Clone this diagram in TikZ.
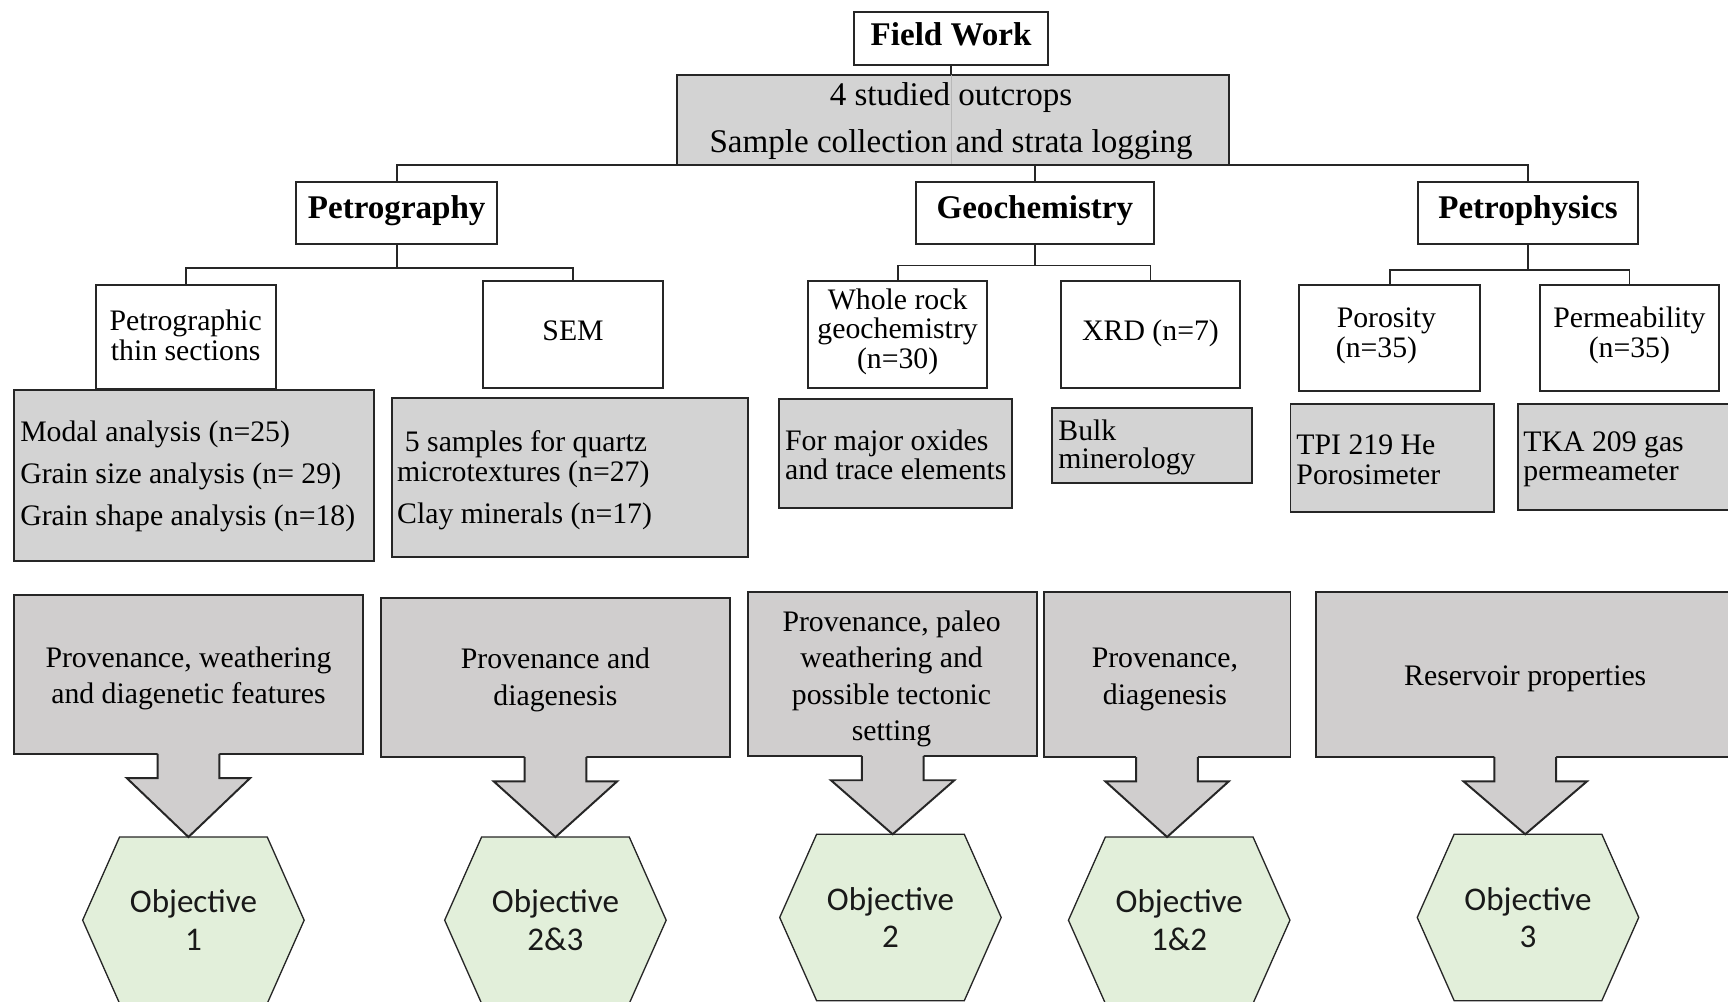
\documentclass[tikz,border=0pt]{standalone}
\usepackage{fontspec}
\setmainfont{Liberation Serif}
\newfontfamily\objfont{Carlito}
\usetikzlibrary{calc}

\definecolor{boxgray}{HTML}{D3D3D3}
\definecolor{callgray}{HTML}{D0CECE}
\definecolor{hexgreen}{HTML}{E2EFDA}
\definecolor{edge}{HTML}{262626}

% rectangle node from its corner coordinates (x1,y1)-(x2,y2)
\newcommand\pxbox[6]{%
  \node[#1, minimum width={(#5-#3)*0.5pt}, minimum height={(#6-#4)*0.5pt}]
    (#2) at ({(#3+#5)/2},{(#4+#6)/2}) {};}

% objective hexagon with its label node
\newcommand\objhex[4]{%
  \filldraw[hexshape] ({#2-100.5},#3) -- ({#2-67},{#3-75.5}) -- ({#2+67},{#3-75.5})
    -- ({#2+100.5},#3) -- ({#2+67},{#3+75.5}) -- ({#2-67},{#3+75.5}) -- cycle;
  \node[hextxt, minimum width=67pt, minimum height=75.5pt] (#1) at (#2,#3) {#4};}

% block arrow hanging from a callout box down to an objective
\newcommand\calloutarrow[2]{%
  \fill[callgray] ($(#1.south)+(-28,-2)$) -- ($(#1.south)+(-28,22)$) -- ($(#1.south)+(-56,22)$)
    -- (#1.south |- #2.north) -- ($(#1.south)+(56,22)$) -- ($(#1.south)+(28,22)$)
    -- ($(#1.south)+(28,-2)$) -- cycle;
  \draw[arrowline] ($(#1.south)+(-28,0)$) -- ($(#1.south)+(-28,22)$) -- ($(#1.south)+(-56,22)$)
    -- (#1.south |- #2.north) -- ($(#1.south)+(56,22)$) -- ($(#1.south)+(28,22)$)
    -- ($(#1.south)+(28,0)$);}

\tikzset{
  frame/.style={draw=edge, line width=0.9pt, inner sep=0pt, outer sep=0pt},
  whitebox/.style={frame, fill=white},
  graybox/.style={frame, fill=boxgray},
  callbox/.style={frame, fill=callgray},
  txt/.style={font={\fontsize{13.5}{#1}\selectfont}, align=center, inner sep=0pt,
    yshift=-1.5pt},
  txt/.default=13.5pt,
  ltxt/.style={txt=#1, align=left, anchor=west},
  ltxt/.default=13.5pt,
  oneline/.style={text height=9.5pt, text depth=3.4pt},
  headtxt/.style={font={\bfseries\fontsize{15}{16}\selectfont}, inner sep=0pt,
    text height=10.5pt, text depth=3.8pt, yshift=-0.5pt},
  link/.style={draw=edge, line width=0.8pt},
  seam/.style={draw=black!28, line width=0.5pt},
  hexshape/.style={fill=hexgreen, draw=edge, line width=0.6pt},
  hextxt/.style={font={\objfont\fontsize{15}{17}\selectfont}, align=center,
    inner sep=0pt, outer sep=0pt, text=black!90},
  arrowline/.style={draw=edge, line width=0.9pt, line join=miter},
}

\begin{document}
\begin{tikzpicture}[x=0.5pt, y=-0.5pt]
\useasboundingbox (0,0) rectangle (1568,909);
\clip (0,0) rectangle (1568,909);

% ---------------- field work ----------------
\pxbox{whitebox}{fw}{775}{11}{951}{59}
\node[headtxt] (fwT) at (863,34) {Field Work};
\pxbox{graybox}{out}{614}{68}{1115}{150}
\draw[link] (fw.south) -- (fw.south |- out.north);
\draw[seam] (fw.south |- out.north) -- (fw.south |- out.south);
\node[txt=21pt, font={\fontsize{15}{21}\selectfont}] (outT) at (863,107)
  {4 studied outcrops\\Sample collection and strata logging};

% ---------------- three disciplines ----------------
\pxbox{whitebox}{petro}{269}{165}{451}{221}
\pxbox{whitebox}{geo}{831}{165}{1047}{221}
\pxbox{whitebox}{phys}{1287}{165}{1486}{221}
\node[headtxt] (petroT) at (360,191) {Petrography};
\node[headtxt] (geoT) at (939,191) {Geochemistry};
\node[headtxt] (physT) at (1386.5,191) {Petrophysics};

\draw[link] (out.south) -| (petro.north);
\draw[link] (out.south) -| (geo.north);
\draw[link] (out.south) -| (phys.north);

% ---------------- methods ----------------
\pxbox{whitebox}{thin}{87}{259}{250}{353}
\pxbox{whitebox}{sem}{438}{255}{602}{352}
\pxbox{whitebox}{wr}{733}{255}{896}{352}
\pxbox{whitebox}{xrd}{963}{255}{1125}{352}
\pxbox{whitebox}{poro}{1179}{259}{1343}{355}
\pxbox{whitebox}{perm}{1397}{259}{1560}{355}

\node[txt] (thinT) at (168.5,301.5) {Petrographic\\thin sections};
\node[txt, oneline] (semT) at (520,300) {SEM};
\node[txt] (wrT) at (814.5,298) {Whole rock\\geochemistry\\(n=30)};
\node[txt, oneline] (xrdT) at (1044,300) {XRD (n=7)};
\node[txt] (poroT) at (1258,301.5) {Porosity\\(n=35)\hspace*{9pt}};
\node[txt] (permT) at (1478.5,301.5) {Permeability\\(n=35)};

\coordinate (pj) at ($(petro.south)+(0,22)$);
\coordinate (gj) at ($(geo.south)+(0,20)$);
\coordinate (fj) at ($(phys.south)+(0,24)$);
\draw[link] (petro.south) -- (pj) -| (thin.north);
\draw[link] (pj) -| (sem.north);
\draw[link] (geo.south) -- (gj) -| (wr.north);
\draw[link] (gj) -| (xrd.north);
\draw[link] (phys.south) -- (fj) -| (poro.north);
\draw[link] (fj) -| (perm.north);

% ---------------- sample details ----------------
\pxbox{graybox}{g1}{13}{354}{339}{509}
\pxbox{graybox}{g2}{356}{361}{679}{505}
\pxbox{graybox}{g3}{707}{362}{918}{461}
\pxbox{graybox}{g4}{955}{370}{1136}{438}
\pxbox{graybox}{g5}{1171}{367}{1356}{465}
\pxbox{graybox}{g6}{1377}{367}{1580}{463}

\node[ltxt=19pt] (g1T) at (18,429)
  {Modal analysis (n=25)\\Grain size analysis (n= 29)\\Grain shape analysis (n=18)};
\node[ltxt] (g2T) at (360,432.5)
  {\hspace*{3.5pt}5 samples for quartz\\microtextures (n=27)\\[5.5pt]Clay minerals (n=17)};
\node[ltxt=13pt] (g3T) at (712,410) {For major oxides\\and trace elements};
\node[ltxt=13pt] (g4T) at (960,403) {Bulk\\minerology};
\node[ltxt] (g5T) at (1176,414.5) {TPI 219 He\\Porosimeter};
\node[ltxt=13pt] (g6T) at (1382,414) {TKA 209 gas\\permeameter};

% ---------------- outcomes ----------------
\pxbox{callbox}{c1}{13}{540}{329}{684}
\pxbox{callbox}{c2}{346}{543}{662}{687}
\pxbox{callbox}{c3}{679}{537}{941}{686}
\pxbox{callbox}{c4}{947}{537}{1171}{687}
\pxbox{callbox}{c5}{1194}{537}{1574}{687}

\node[txt=16.5pt] (c1T) at (171,612.5) {Provenance, weathering\\and diagenetic features};
\node[txt=16.5pt] (c2T) at (504,614) {Provenance and\\diagenesis};
\node[txt=16.4pt] (c3T) at (809,613) {Provenance, paleo\\weathering and\\possible tectonic\\setting};
\node[txt=16.5pt] (c4T) at (1057,613.5) {Provenance,\\diagenesis};
\node[txt, oneline] (c5T) at (1384,613) {Reservoir properties};

% ---------------- objectives ----------------
\objhex{o1}{175.5}{835}{Objective\\1}
\objhex{o2}{504}{835}{Objective\\2\&3}
\objhex{o3}{808}{832.5}{Objective\\2}
\objhex{o4}{1070}{835}{Objective\\1\&2}
\objhex{o5}{1386.5}{832.5}{Objective\\3}

\calloutarrow{c1}{o1}
\calloutarrow{c2}{o2}
\calloutarrow{c3}{o3}
\calloutarrow{c4}{o4}
\calloutarrow{c5}{o5}
\end{tikzpicture}
\end{document}
